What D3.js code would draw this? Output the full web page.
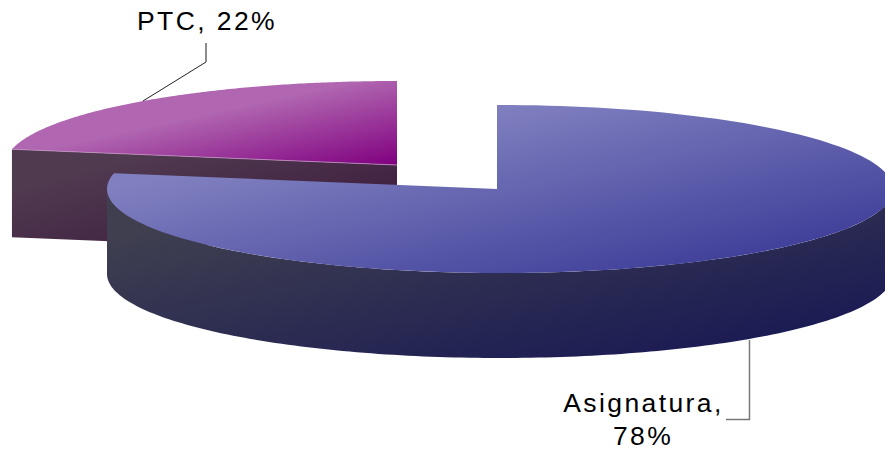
<!DOCTYPE html>
<html><head><meta charset="utf-8">
<script src="https://cdn.jsdelivr.net/npm/d3@7/dist/d3.min.js"></script>
<style>html,body{margin:0;padding:0;background:#fff}svg{display:block}
text{font-family:"Liberation Sans",Arial,sans-serif;font-size:26.5px;fill:#000;letter-spacing:2.4px}</style>
</head><body><svg id="c" width="885" height="453"></svg>
<script>
const categories=["Asignatura","PTC"];
const values=[78,22];
const labelLines=[["Asignatura,","78%"],["PTC, 22%"]];
const svg=d3.select("#c");
const defs=svg.append("defs");
function grad(id,o0,a,o1,b){
 const g=defs.append("linearGradient").attr("id",id)
 .attr("x1",0).attr("y1",0).attr("x2",1).attr("y2",1);
 g.append("stop").attr("offset",o0).attr("stop-color",a);
 g.append("stop").attr("offset",o1).attr("stop-color",b);
}
grad("topA",0.25,"#8080c0",0.9,"#3c3c98");
grad("wallA",0.15,"#3f3f50",0.85,"#1c1c54");
grad("topB",0.45,"#b066b0",1,"#800080");
grad("wallB",0.2,"#503a50",0.65,"#422442");
const arcs=d3.pie().sort(null)(values);
const cfg=[{ax:497,ay:189,cx:500,cy:189,rx:393,ry:84,depth:85,t:"topA",w:"wallA"},
           {ax:397,ay:165,cx:397,cy:165,rx:392,ry:84,depth:88,t:"topB",w:"wallB"}];
const pt=(c,a,dy=0)=>[c.cx+c.rx*Math.sin(a),c.cy-c.ry*Math.cos(a)+dy];
const line=d3.line();
const sampleAngles=(a,b)=>d3.range(0,161).map(i=>a+(b-a)*i/160);
// PTC slice (behind)
{const c=cfg[1],d=arcs[1];
 const p0=pt(c,d.startAngle),p1=[c.ax,c.ay];
 svg.append("path").attr("d",line([p0,p1,[p1[0],p1[1]+c.depth],[p0[0],p0[1]+c.depth]])+"Z").attr("fill","url(#"+c.w+")");
 svg.append("path").attr("fill","url(#"+c.t+")")
   .attr("d",line([p1,...sampleAngles(d.startAngle,d.endAngle).map(a=>pt(c,a))])+"Z");
 svg.append("path").attr("d",line([p0,p1])).attr("stroke","#c090c0").attr("stroke-width",0.8).attr("fill","none");
}
// Asignatura slice
{const c=cfg[0],d=arcs[0];
 const as=sampleAngles(Math.PI/2,Math.PI*1.5);
 const upper=as.map(a=>pt(c,a)),lower=as.map(a=>pt(c,a,c.depth)).reverse();
 svg.append("path").attr("d",line([...upper,...lower])+"Z").attr("fill","url(#"+c.w+")");
 const rim=sampleAngles(d.startAngle,d.endAngle).map(a=>pt(c,a));
 svg.append("path").attr("fill","url(#"+c.t+")")
   .attr("d",line([[c.ax,c.ay],[c.ax,rim[0][1]],...rim])+"Z");
}
// leader lines
svg.append("path").attr("d",line([[143,101],[206,62]])).attr("fill","none").attr("stroke","#222").attr("stroke-width",1);
svg.append("path").attr("d",line([[206,62],[206,43]])).attr("fill","none").attr("stroke","#666").attr("stroke-width",1.5);
svg.append("path").attr("d",line([[749.5,340],[749.5,419.5],[726,419.5]])).attr("fill","none").attr("stroke","#777").attr("stroke-width",1.5);
svg.append("text").attr("x",207).attr("y",30).attr("text-anchor","middle").text(labelLines[1][0]);
svg.append("text").attr("x",643.5).attr("y",412).attr("text-anchor","middle").text(labelLines[0][0]);
svg.append("text").attr("x",643).attr("y",445).attr("text-anchor","middle").text(labelLines[0][1]);
</script></body></html>
